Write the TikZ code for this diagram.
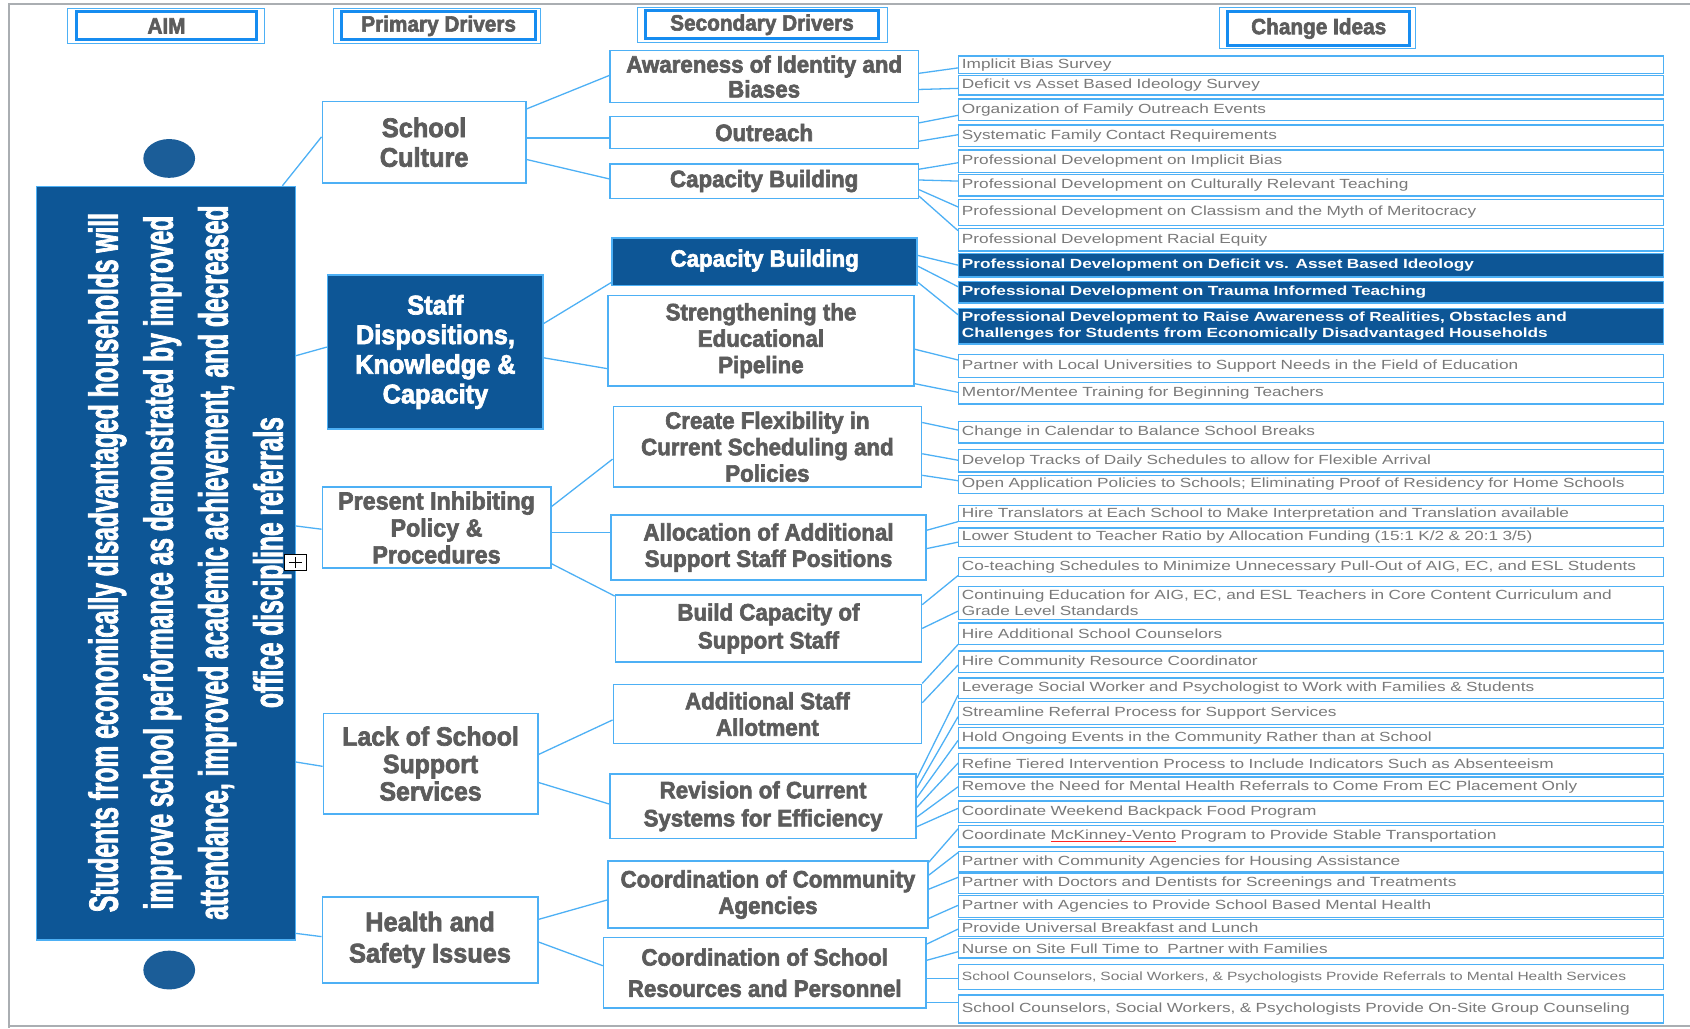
\documentclass[tikz,border=0pt]{standalone}
\usepackage{fontspec}
\setmainfont{Liberation Sans}
\newfontfamily\heavy[FakeStretch=0.94,BoldFeatures={FakeBold=2.6}]{Liberation Sans}
\newfontfamily\aimfont[FakeStretch=0.6,BoldFeatures={FakeBold=1.8}]{Liberation Sans}
\newfontfamily\ideafont[FakeStretch=1.3]{Liberation Sans}

\definecolor{lblue}{RGB}{77,176,245}
\definecolor{hblue}{RGB}{22,140,240}
\definecolor{dblue}{RGB}{13,86,150}
\definecolor{cblue}{RGB}{27,93,152}
\definecolor{tgray}{RGB}{92,92,92}
\definecolor{igray}{RGB}{122,122,122}
\definecolor{fgray}{RGB}{170,174,178}

\tikzset{
  plainbox/.style={draw=lblue, line width=1.4pt, fill=white, inner sep=0pt, align=center, text=tgray},
  darkbox/.style={plainbox, fill=dblue, text=white},
  pfont/.style={font=\heavy\bfseries\fontsize{25}{27.5}\selectfont},
  sfont/.style={font=\heavy\bfseries\fontsize{22}{24.5}\selectfont},
  idea/.style={draw=lblue, line width=1.3pt, fill=white, inner xsep=3pt, inner ysep=0pt,
    text width=648pt, align=left, text=igray, font=\ideafont\fontsize{12.3}{15}\selectfont},
  darkidea/.style={idea, fill=dblue, text=white, font=\ideafont\bfseries\fontsize{12.3}{15}\selectfont},
  link/.style={draw=lblue, line width=1.2pt},
  headbox/.style={draw=hblue, line width=2.6pt, inner sep=0pt, text=tgray,
    font=\heavy\bfseries\fontsize{20.5}{22}\selectfont},
  headouter/.style={draw=lblue, line width=0.9pt},
}

% box from (x1,y1) to (x2,y2) in picture units
\newcommand\drvbox[7]{\node[#2, minimum width={(#5-#3)*1pt}, minimum height={(#6-#4)*1pt}] (#1) at ({(#3+#5)/2},{(#4+#6)/2}) {#7};}
% one change idea row
\newcommand\idearow[5][idea]{\node[#1, minimum height={(#4-#3)*1pt}] (#2) at (1216.5,{(#3+#4)/2}) {#5};}
% connector from the right edge of one node to the left edge of another
\newcommand\lnk[4]{\draw[link] (#1.east |- 0,#2) -- (#3.west |- 0,#4);}
% spell-check underline
\newcommand\spellmark[1]{\setbox0\hbox{#1}\rlap{\textcolor{red!85}{\rule[-1.8pt]{\wd0}{0.6pt}}}\box0\relax}

\begin{document}
\begin{tikzpicture}[x=1pt, y=-1pt]
\useasboundingbox (0,0) rectangle (1568,954);
\fill[white] (0,0) rectangle (1568,954);

% page frame
\draw[fgray, line width=2pt] (1568,4) -- (8,4) -- (8,954);
\draw[fgray, line width=1.5pt] (8,952) -- (1568,952);

% column headers
\drvbox{hAim}{headbox}{71}{11}{238}{37}{AIM}
\drvbox{hPri}{headbox}{317}{11}{497}{37}{Primary Drivers}
\drvbox{hSec}{headbox}{599}{10}{815}{36}{Secondary Drivers}
\drvbox{hChg}{headbox}{1139}{11}{1308}{42}{Change Ideas}
\draw[headouter] ([shift={(-7,-2)}]hAim.north west) rectangle ([shift={(6,2)}]hAim.south east);
\draw[headouter] ([shift={(-6,-2)}]hPri.north west) rectangle ([shift={(3,2)}]hPri.south east);
\draw[headouter] ([shift={(-6,-2)}]hSec.north west) rectangle ([shift={(7,2)}]hSec.south east);
\draw[headouter] ([shift={(-6,-3)}]hChg.north west) rectangle ([shift={(4,2)}]hChg.south east);

% aim
\fill[cblue] (157,147) ellipse [x radius=24, y radius=18];
\fill[cblue] (157,900) ellipse [x radius=24, y radius=18];
\drvbox{aim}{darkbox, line width=1.2pt}{34}{173}{274}{872}{}
\node[rotate=90, text=white, align=center, inner sep=0pt,
  font=\aimfont\bfseries\fontsize{38}{51}\selectfont] (aimtext) at (176,522)
  {Students from economically disadvantaged households will\\
   improve school performance as demonstrated by improved\\
   attendance, improved academic achievement, and decreased\\
   office discipline referrals};

% primary drivers
\drvbox{sc}{plainbox, pfont}{299}{94}{488}{170}{School\\Culture}
\drvbox{staff}{darkbox, pfont}{304}{255}{504}{398}{Staff\\Dispositions,\\Knowledge \&\\Capacity}
\drvbox{pip}{plainbox, font=\heavy\bfseries\fontsize{23}{25}\selectfont}{299}{452}{511}{527}{Present Inhibiting\\Policy \&\\Procedures}
\drvbox{lack}{plainbox, font=\heavy\bfseries\fontsize{24.5}{25.5}\selectfont}{300}{662}{499}{755}{Lack of School\\Support\\Services}
\drvbox{hs}{plainbox, font=\heavy\bfseries\fontsize{25}{29}\selectfont}{299}{832}{499}{912}{Health and\\Safety Issues}

% secondary drivers
\drvbox{aw}{plainbox, font=\heavy\bfseries\fontsize{22}{23}\selectfont}{566}{47}{852}{95}{Awareness of Identity and\\Biases}
\drvbox{out}{plainbox, sfont}{566}{108}{852}{138}{Outreach}
\drvbox{cba}{plainbox, sfont}{566}{152}{852}{184}{Capacity Building}
\drvbox{cbb}{darkbox, sfont}{568}{221}{851}{265}{\raisebox{7pt}{Capacity Building}}
\drvbox{sep}{plainbox, sfont}{564}{274}{848}{358}{Strengthening the\\Educational\\Pipeline}
\drvbox{flex}{plainbox, sfont}{569}{377}{855}{452}{Create Flexibility in\\Current Scheduling and\\Policies}
\drvbox{alloc}{plainbox, sfont}{567}{478}{859}{538}{Allocation of Additional\\Support Staff Positions}
\drvbox{bcs}{plainbox, font=\heavy\bfseries\fontsize{22}{26}\selectfont}{571}{552}{855}{614}{Build Capacity of\\Support Staff}
\drvbox{ast}{plainbox, sfont}{569}{635}{855}{690}{Additional Staff\\Allotment}
\drvbox{rev}{plainbox, font=\heavy\bfseries\fontsize{22}{26}\selectfont}{566}{718}{850}{778}{Revision of Current\\Systems for Efficiency}
\drvbox{cca}{plainbox, sfont}{564}{799}{861}{861}{Coordination of Community\\Agencies}
\drvbox{csr}{plainbox, font=\heavy\bfseries\fontsize{22}{29}\selectfont}{560}{870}{859}{935}{Coordination of School\\Resources and Personnel}

% change ideas
\idearow{i1}{52}{68}{Implicit Bias Survey}
\idearow{i2}{70}{88}{Deficit vs Asset Based Ideology Survey}
\idearow{i3}{92}{112}{Organization of Family Outreach Events}
\idearow{i4}{116}{136}{Systematic Family Contact Requirements}
\idearow{i5}{139}{160}{Professional Development on Implicit Bias}
\idearow{i6}{162}{182}{Professional Development on Culturally Relevant Teaching}
\idearow{i7}{185}{209}{Professional Development on Classism and the Myth of Meritocracy}
\idearow{i8}{212}{233}{Professional Development Racial Equity}
\idearow[darkidea]{i9}{235}{257}{Professional Development on Deficit vs. Asset Based Ideology}
\idearow[darkidea]{i10}{261}{281}{Professional Development on Trauma Informed Teaching}
\idearow[darkidea]{i11}{286}{319}{Professional Development to Raise Awareness of Realities, Obstacles and\\Challenges for Students from Economically Disadvantaged Households}
\idearow{i12}{329}{350}{Partner with Local Universities to Support Needs in the Field of Education}
\idearow{i13}{355}{375}{Mentor/Mentee Training for Beginning Teachers}
\idearow{i14}{391}{411}{Change in Calendar to Balance School Breaks}
\idearow{i15}{417}{438}{Develop Tracks of Daily Schedules to allow for Flexible Arrival}
\idearow{i16}{441}{458}{Open Application Policies to Schools; Eliminating Proof of Residency for Home Schools}
\idearow{i17}{469}{484}{Hire Translators at Each School to Make Interpretation and Translation available}
\idearow{i18}{490}{507}{Lower Student to Teacher Ratio by Allocation Funding (15:1 K/2 \& 20:1 3/5)}
\idearow{i19}{517}{535}{Co-teaching Schedules to Minimize Unnecessary Pull-Out of AIG, EC, and ESL Students}
\idearow{i20}{544}{575}{Continuing Education for AIG, EC, and ESL Teachers in Core Content Curriculum and\\Grade Level Standards}
\idearow{i21}{578}{598}{Hire Additional School Counselors}
\idearow{i22}{604}{624}{Hire Community Resource Coordinator}
\idearow{i23}{629}{648}{Leverage Social Worker and Psychologist to Work with Families \& Students}
\idearow{i24}{651}{672}{Streamline Referral Process for Support Services}
\idearow{i25}{675}{694}{Hold Ongoing Events in the Community Rather than at School}
\idearow{i26}{699}{718}{Refine Tiered Intervention Process to Include Indicators Such as Absenteeism}
\idearow{i27}{721}{739}{Remove the Need for Mental Health Referrals to Come From EC Placement Only}
\idearow{i28}{743}{763}{Coordinate Weekend Backpack Food Program}
\idearow{i29}{766}{786}{Coordinate \spellmark{McKinney-Vento} Program to Provide Stable Transportation}
\idearow{i30}{790}{809}{Partner with Community Agencies for Housing Assistance}
\idearow{i31}{810}{829}{Partner with Doctors and Dentists for Screenings and Treatments}
\idearow{i32}{831}{851}{Partner with Agencies to Provide School Based Mental Health}
\idearow{i33}{853}{869}{Provide Universal Breakfast and Lunch}
\idearow{i34}{871}{889}{Nurse on Site Full Time to\ \ Partner with Families}
\idearow[idea, font=\ideafont\fontsize{11.1}{13}\selectfont]{i35}{895}{918}{School Counselors, Social Workers, \& Psychologists Provide Referrals to Mental Health Services}
\idearow{i36}{923}{949}{School Counselors, Social Workers, \& Psychologists Provide On-Site Group Counseling}

% aim to primary drivers
\draw[link] (aim.north -| 262,0) -- (sc.west |- 0,127);
\draw[link] (aim.east |- 0,330) -- (staff.west |- 0,322);
\draw[link] (aim.east |- 0,488) -- (pip.west |- 0,491);
\draw[link] (aim.east |- 0,707) -- (lack.west |- 0,711);
\draw[link] (aim.east |- 0,866) -- (hs.west |- 0,869);

% primary to secondary drivers
\lnk{sc}{101}{aw}{70}
\lnk{sc}{128}{out}{128}
\lnk{sc}{148}{cba}{166}
\lnk{staff}{300}{cbb}{262}
\lnk{staff}{332}{sep}{342}
\lnk{pip}{470}{flex}{426}
\lnk{pip}{494}{alloc}{494}
\lnk{pip}{523}{bcs}{553}
\lnk{lack}{700}{ast}{668}
\lnk{lack}{726}{rev}{746}
\lnk{hs}{853}{cca}{835}
\lnk{hs}{874}{csr}{896}

% secondary drivers to change ideas
\lnk{aw}{68}{i1}{63}
\lnk{aw}{83}{i2}{82}
\lnk{out}{114}{i3}{107}
\lnk{out}{131}{i4}{125}
\lnk{cba}{157}{i5}{151}
\lnk{cba}{167}{i6}{168}
\lnk{cba}{176}{i7}{192}
\lnk{cba}{182}{i8}{214}
\lnk{cbb}{237}{i9}{246}
\lnk{cbb}{247}{i10}{266}
\lnk{cbb}{262}{i11}{292}
\lnk{sep}{324}{i12}{334}
\lnk{sep}{356}{i13}{364}
\lnk{flex}{392}{i14}{399}
\lnk{flex}{421}{i15}{427}
\lnk{flex}{441}{i16}{446}
\lnk{alloc}{492}{i17}{484}
\lnk{alloc}{509}{i18}{503}
\lnk{bcs}{561}{i19}{534}
\lnk{bcs}{583}{i20}{567}
\lnk{ast}{634}{i21}{598}
\lnk{ast}{652}{i22}{617}
\lnk{rev}{722}{i23}{645}
\lnk{rev}{731}{i24}{665}
\lnk{rev}{740}{i25}{687}
\lnk{rev}{749}{i26}{708}
\lnk{rev}{758}{i27}{730}
\lnk{rev}{767}{i28}{750}
\lnk{cca}{800}{i29}{769}
\lnk{cca}{812}{i30}{791}
\lnk{cca}{825}{i31}{814}
\lnk{cca}{852}{i32}{840}
\lnk{csr}{876}{i33}{862}
\lnk{csr}{891}{i34}{883}
\lnk{csr}{908}{i35}{908}
\lnk{csr}{930}{i36}{930}

% expand marker on the aim box
\node[draw=black, fill=white, line width=0.9pt, minimum width=20pt, minimum height=15pt, inner sep=0pt] (expander) at (274,522) {};
\draw[line width=0.9pt] ([xshift=-6pt]expander.center) -- ([xshift=6pt]expander.center)
  ([yshift=-5pt]expander.center) -- ([yshift=5pt]expander.center);
\end{tikzpicture}
\end{document}
